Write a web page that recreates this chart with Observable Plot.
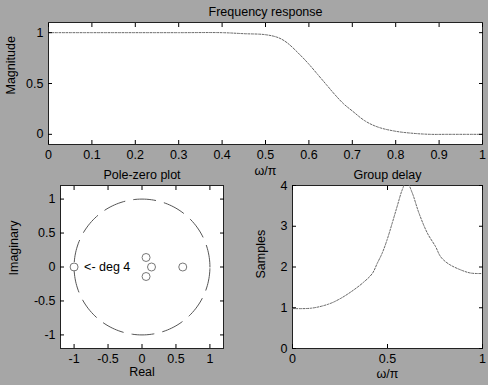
<!DOCTYPE html>
<html><head><meta charset="utf-8">
<script src="https://cdn.jsdelivr.net/npm/d3@7"></script>
<script src="https://cdn.jsdelivr.net/npm/@observablehq/plot@0.6"></script>
<style>
body{margin:0;background:#a6a6a6;}
#fig{position:relative;width:488px;height:385px;background:#a6a6a6;overflow:hidden;}
#fig svg{position:absolute;background:transparent;}
</style></head><body><div id="fig"></div>
<script>
// Frequency response (magnitude)
const magW = [0, 0.1, 0.2, 0.3, 0.4, 0.45, 0.5, 0.53, 0.55, 0.58, 0.6, 0.62, 0.64, 0.66, 0.68, 0.7, 0.73, 0.76, 0.8, 0.84, 0.88, 0.92, 1.0];
const magH = [1, 1, 1, 1, 1, 0.99, 0.98, 0.95, 0.9, 0.78, 0.69, 0.59, 0.49, 0.39, 0.3, 0.23, 0.13, 0.07, 0.03, 0.01, 0, 0, 0];
const magXTicks = [0, 0.1, 0.2, 0.3, 0.4, 0.5, 0.6, 0.7, 0.8, 0.9, 1];
const magYTicks = [0, 0.5, 1];

// Pole-zero plot markers
const pzRe = [-1, 0.06, 0.14, 0.06, 0.6];
const pzIm = [0, 0.14, 0, -0.14, 0];
const pzTicks = [-1, -0.5, 0, 0.5, 1];
const pzNote = "<- deg 4";

// Group delay
const gdW = [0, 0.1, 0.19, 0.25, 0.32, 0.375, 0.42, 0.446, 0.472, 0.498, 0.525, 0.551, 0.578, 0.6, 0.63, 0.665, 0.71, 0.753, 0.78, 0.82, 0.89, 0.94, 1.0];
const gdS = [0.98, 0.99, 1.09, 1.22, 1.43, 1.63, 1.84, 2.09, 2.34, 2.67, 3.08, 3.49, 3.9, 4.1, 3.82, 3.33, 2.83, 2.5, 2.25, 2.08, 1.92, 1.85, 1.84];
const gdXTicks = [0, 0.5, 1];
const gdYTicks = [0, 1, 2, 3, 4];

const FONT = '"Liberation Sans", Arial, sans-serif';
const FS = 12.5;
const style = {background: "transparent", fontFamily: FONT, fontSize: FS + "px", color: "#000"};
const fmt = d => String(d);
const blank = () => "";
const T = {fontSize: FS, fontFamily: FONT, fill: "#000"};

function boxAxes(xt, yt) {
  return [
    Plot.axisX(xt, {anchor: "bottom", tickSize: -4, tickPadding: 10, tickFormat: fmt, label: null, ...T}),
    Plot.axisX(xt, {anchor: "top", tickSize: -4, tickFormat: blank, label: null}),
    Plot.axisY(yt, {anchor: "left", tickSize: -4, tickPadding: 9, tickFormat: fmt, label: null, ...T}),
    Plot.axisY(yt, {anchor: "right", tickSize: -4, tickFormat: blank, label: null})
  ];
}
function place(svg, left, topPx) {
  svg.style.left = left + "px";
  svg.style.top = topPx + "px";
  document.getElementById("fig").appendChild(svg);
}

const mag = magW.map((w, i) => ({w, h: magH[i]}));
const magPlot = Plot.plot({
  width: 488, height: 185, marginLeft: 48, marginRight: 6, marginTop: 22, marginBottom: 41,
  style,
  x: {domain: [0, 1]}, y: {domain: [-0.1, 1.1]},
  marks: [
    Plot.frame({fill: "white", stroke: "#222"}),
    Plot.line(mag, {x: "w", y: "h", stroke: "#666", strokeWidth: 1, strokeDasharray: "2,1.5", curve: "catmull-rom"}),
    ...boxAxes(magXTicks, magYTicks),
    Plot.text(["Frequency response"], {frameAnchor: "top", dy: -15, ...T}),
    Plot.text(["ω/π"], {frameAnchor: "bottom", dy: 30, ...T}),
    Plot.text(["Magnitude"], {frameAnchor: "left", rotate: -90, dx: -38, dy: 11, ...T})
  ]
});
place(magPlot, 0, 0);

const pz = pzRe.map((re, i) => ({re, im: pzIm[i]}));
const unit = d3.range(0, 361, 2).map(a => ({re: Math.cos(a * Math.PI / 180), im: Math.sin(a * Math.PI / 180)}));
const pzPlot = Plot.plot({
  width: 244, height: 230, marginLeft: 60, marginRight: 21, marginTop: 30, marginBottom: 37,
  style,
  x: {domain: [-1.2, 1.2]}, y: {domain: [-1.2, 1.2]},
  marks: [
    Plot.frame({fill: "white", stroke: "#222"}),
    Plot.line(unit, {x: "re", y: "im", stroke: "#555", strokeWidth: 1, strokeDasharray: "22,9"}),
    Plot.dot(pz, {x: "re", y: "im", r: 4, stroke: "#777", strokeWidth: 1}),
    Plot.text([pz[0]], {x: "re", y: "im", text: () => pzNote, dx: 10, textAnchor: "start", ...T}),
    ...boxAxes(pzTicks, pzTicks),
    Plot.text(["Pole-zero plot"], {frameAnchor: "top", dy: -15, ...T}),
    Plot.text(["Real"], {frameAnchor: "bottom", dy: 27.5, ...T}),
    Plot.text(["Imaginary"], {frameAnchor: "left", rotate: -90, dx: -47, dy: 8.5, ...T})
  ]
});
place(pzPlot, 0, 155);

const gd = gdW.map((w, i) => ({w, s: gdS[i]}));
const gdPlot = Plot.plot({
  width: 244, height: 230, marginLeft: 48, marginRight: 6, marginTop: 30, marginBottom: 37,
  style,
  x: {domain: [0, 1]}, y: {domain: [0, 4]},
  marks: [
    Plot.frame({fill: "white", stroke: "#222"}),
    Plot.line(gd, {x: "w", y: "s", stroke: "#666", strokeWidth: 1, strokeDasharray: "2,1.5", curve: "catmull-rom", clip: true}),
    ...boxAxes(gdXTicks, gdYTicks),
    Plot.text(["Group delay"], {frameAnchor: "top", dy: -15, ...T}),
    Plot.text(["ω/π"], {frameAnchor: "bottom", dy: 29.5, ...T}),
    Plot.text(["Samples"], {frameAnchor: "left", rotate: -90, dx: -32, dy: 11.5, ...T})
  ]
});
place(gdPlot, 244, 155);
</script></body></html>
